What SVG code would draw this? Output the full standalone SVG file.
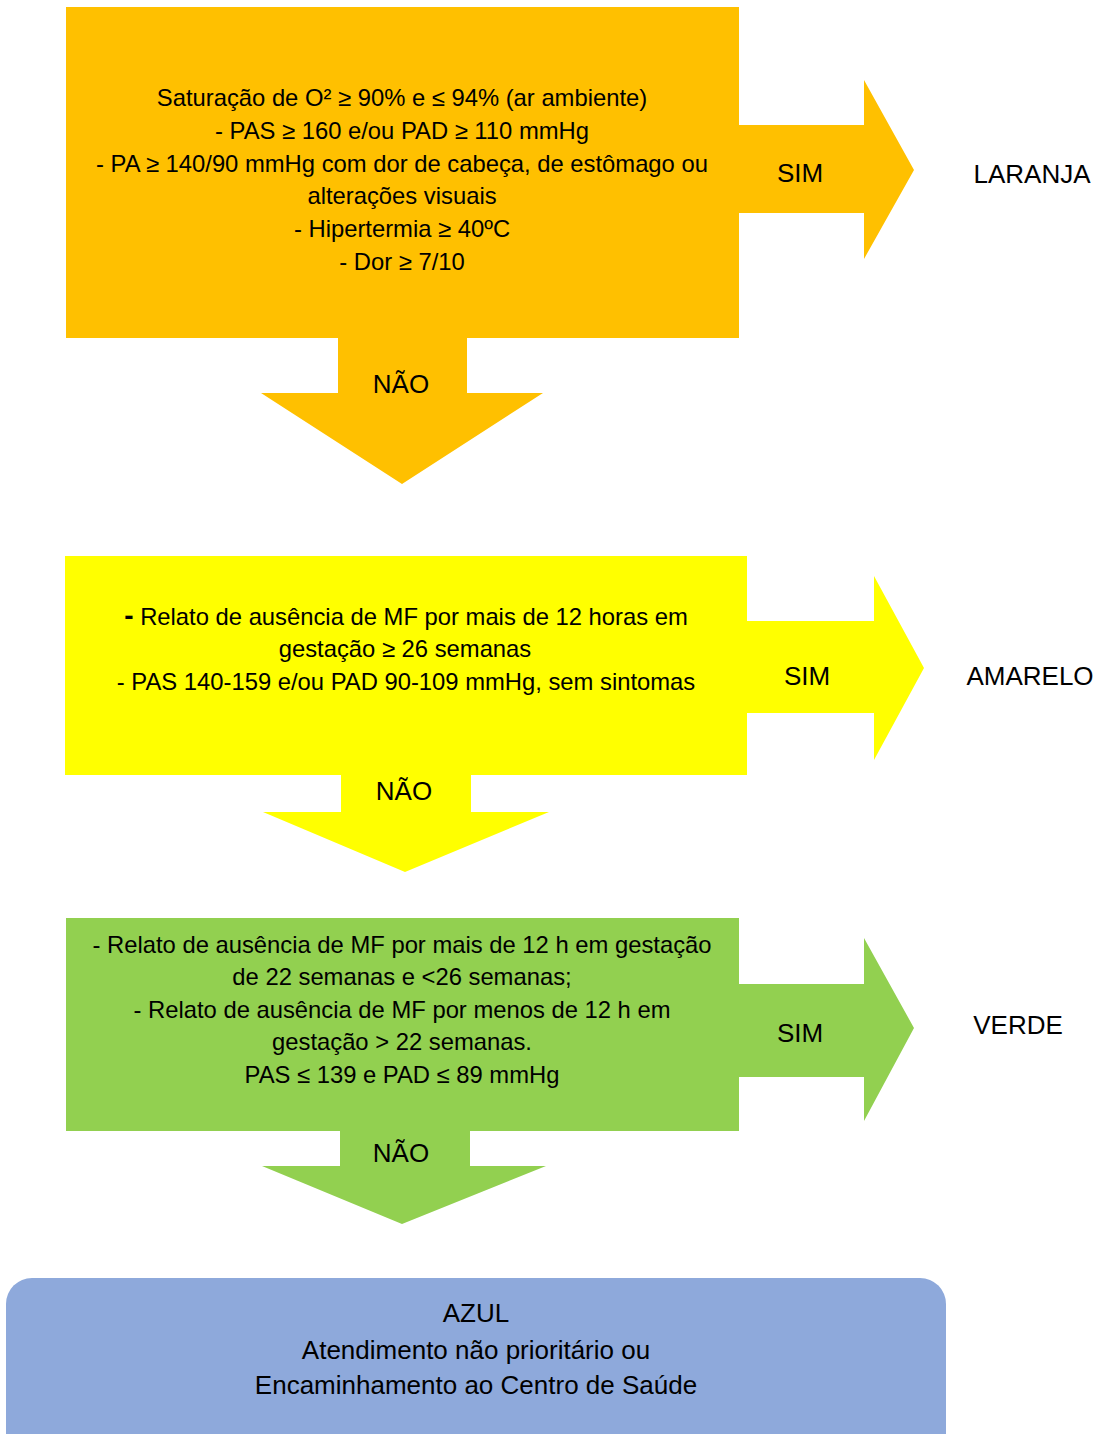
<svg xmlns="http://www.w3.org/2000/svg" width="1100" height="1434" viewBox="0 0 1100 1434">
<style>
text{font-family:"Liberation Sans",Arial,sans-serif;font-size:23.8px;fill:#000;text-anchor:middle}
.lbl{font-size:26px}
.orange{fill:#FFC000}
.yellow{fill:#FFFF00}
.green{fill:#92D050}
.blue{fill:#8EA9DB}
</style>
<rect width="1100" height="1434" fill="#fff"/>
<g id="connectors">
  <g id="orange-sim">
    <polygon class="orange" points="739,125 864,125 864,80 914,170 864,259 864,213 739,213"/>
    <text class="lbl" x="800" y="182">SIM</text>
  </g>
  <g id="orange-nao">
    <polygon class="orange" points="338,337 467,337 467,393 543,393 402,484 261,393 338,393"/>
    <text class="lbl" x="401" y="393">NÃO</text>
  </g>
  <g id="yellow-sim">
    <polygon class="yellow" points="747,621 874,621 874,576 924,668 874,760 874,713 747,713"/>
    <text class="lbl" x="807" y="685">SIM</text>
  </g>
  <g id="yellow-nao">
    <polygon class="yellow" points="341,774 471,774 471,812 549,812 405,872 263,812 341,812"/>
    <text class="lbl" x="404" y="800">NÃO</text>
  </g>
  <g id="green-sim">
    <polygon class="green" points="739,984 864,984 864,938 914,1028 864,1121 864,1077 739,1077"/>
    <text class="lbl" x="800" y="1042">SIM</text>
  </g>
  <g id="green-nao">
    <polygon class="green" points="340,1130 470,1130 470,1166 546,1166 402,1224 262,1166 340,1166"/>
    <text class="lbl" x="401" y="1162">NÃO</text>
  </g>
</g>
<g id="node-orange">
  <rect class="orange" x="66" y="7" width="673" height="331"/>
  <text x="402" y="106">Saturação de O² ≥ 90% e ≤ 94% (ar ambiente)</text>
  <text x="402" y="139">- PAS ≥ 160 e/ou PAD ≥ 110 mmHg</text>
  <text x="402" y="172">- PA ≥ 140/90 mmHg com dor de cabeça, de estômago ou</text>
  <text x="402" y="204">alterações visuais</text>
  <text x="402" y="237">- Hipertermia ≥ 40ºC</text>
  <text x="402" y="270">- Dor ≥ 7/10</text>
</g>
<g id="node-laranja"><text class="lbl" x="1032" y="183">LARANJA</text></g>
<g id="node-yellow">
  <rect class="yellow" x="65" y="556" width="682" height="219"/>
  <text x="406" y="625"><tspan font-weight="bold" font-size="28">-</tspan> Relato de ausência de MF por mais de 12 horas em</text>
  <text x="405" y="657">gestação ≥ 26 semanas</text>
  <text x="406" y="690">- PAS 140-159 e/ou PAD 90-109 mmHg, sem sintomas</text>
</g>
<g id="node-amarelo"><text class="lbl" x="1030" y="685">AMARELO</text></g>
<g id="node-green">
  <rect class="green" x="66" y="918" width="673" height="213"/>
  <text x="402" y="953">- Relato de ausência de MF por mais de 12 h em gestação</text>
  <text x="402" y="985">de 22 semanas e &lt;26 semanas;</text>
  <text x="402" y="1018">- Relato de ausência de MF por menos de 12 h em</text>
  <text x="402" y="1050">gestação &gt; 22 semanas.</text>
  <text x="402" y="1083">PAS ≤ 139 e PAD ≤ 89 mmHg</text>
</g>
<g id="node-verde"><text class="lbl" x="1018" y="1034">VERDE</text></g>
<g id="node-azul">
  <rect class="blue" x="6" y="1278" width="940" height="190" rx="26" ry="26"/>
  <text class="lbl" x="476" y="1322">AZUL</text>
  <text class="lbl" x="476" y="1359">Atendimento não prioritário ou</text>
  <text class="lbl" x="476" y="1394">Encaminhamento ao Centro de Saúde</text>
</g>
</svg>
